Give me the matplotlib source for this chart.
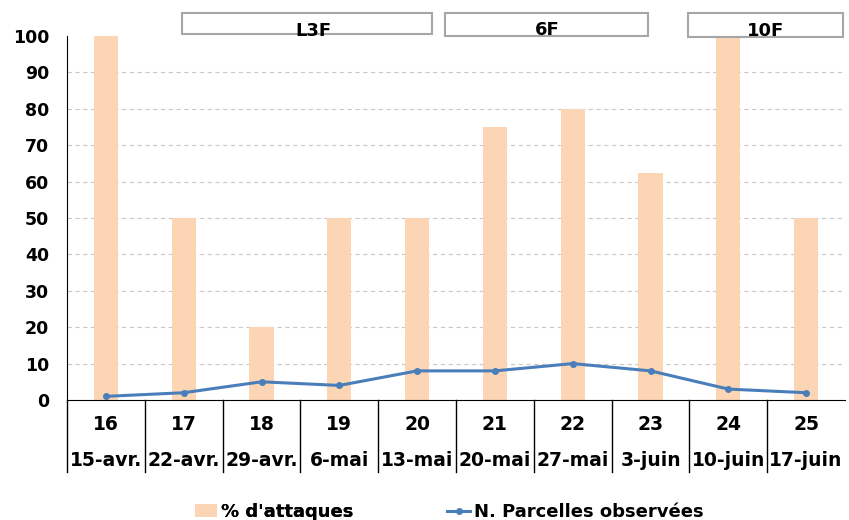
import matplotlib.pyplot as plt
from matplotlib.patches import Rectangle, Patch
from matplotlib.lines import Line2D

weeks = ['16', '17', '18', '19', '20', '21', '22', '23', '24', '25']
dates = ['15-avr.', '22-avr.', '29-avr.', '6-mai', '13-mai', '20-mai',
         '27-mai', '3-juin', '10-juin', '17-juin']
attaques = [100, 50, 20, 50, 50, 75, 80, 62.5, 100, 50]
parcelles = [1, 2, 5, 4, 8, 8, 10, 8, 3, 2]
stages = ['L3F', '6F', '10F']

bar_color = '#FCD5B4'
line_color = '#4A7EBB'

plt.rcParams['font.family'] = 'DejaVu Sans'
plt.rcParams['font.weight'] = 'bold'

fig = plt.figure(figsize=(8.49, 5.2), dpi=100)
ax = fig.add_axes([67 / 849, 1 - 400 / 520, 778 / 849, 364 / 520])

x = list(range(len(weeks)))
ax.bar(x, attaques, width=0.31, color=bar_color, zorder=2)
ax.plot(x, parcelles, color=line_color, lw=2.2, marker='o', ms=4, zorder=3)

ax.set_xlim(-0.5, len(weeks) - 0.5)
ax.set_ylim(0, 100)
ax.set_yticks(range(0, 101, 10))
ax.tick_params(axis='y', length=0, labelsize=12.5, pad=13)
for lab in ax.get_yticklabels():
    lab.set_fontweight('bold')
ax.set_xticks([])
for yv in range(10, 100, 10):
    ax.axhline(yv, color='#C8C8C8', lw=0.8, ls=(0, (4, 3)), zorder=1)

for s in ['top', 'right']:
    ax.spines[s].set_visible(False)
ax.spines['left'].set_color('black')
ax.spines['bottom'].set_color('black')

# category table under the axis
tr = ax.get_xaxis_transform()
for i in range(len(weeks)):
    ax.plot([i - 0.5, i - 0.5], [0, -72 / 364], color='black', lw=1,
            transform=tr, clip_on=False)
    ax.text(i, -24 / 364, weeks[i], transform=tr, ha='center', va='center',
            fontsize=13.5, fontweight='bold')
    ax.text(i, -60 / 364, dates[i], transform=tr, ha='center', va='center',
            fontsize=13.5, fontweight='bold')

# growth stage boxes at the top
boxes = [(182, 13, 250, 21), (445, 13, 203, 23), (688, 13, 155, 24)]
for (bx, by, bw, bh) in boxes:
    fig.patches.append(Rectangle((bx / 849, 1 - (by + bh) / 520), bw / 849, bh / 520,
                                 transform=fig.transFigure, fill=True,
                                 facecolor='white', edgecolor='#A6A6A6',
                                 lw=1.5, zorder=5))
for name, cx, cy in zip(stages, [313, 547, 766], [31, 30, 31]):
    fig.text(cx / 849, 1 - cy / 520, name, ha='center', va='center',
             fontsize=13, fontweight='bold', zorder=6)

leg1 = fig.legend([Patch(facecolor=bar_color, edgecolor='none')], ["% d'attaques"],
                  loc='center left', bbox_to_anchor=(195 / 849, 1 - 512 / 520),
                  frameon=False, borderpad=0, borderaxespad=0, handlelength=1.2,
                  handletextpad=0.25, prop={'weight': 'bold', 'size': 13})
fig.add_artist(leg1)
fig.legend([Line2D([0], [0], color=line_color, lw=2.2, marker='o', ms=4)],
           ['N. Parcelles observées'],
           loc='center left', bbox_to_anchor=(447 / 849, 1 - 512 / 520),
           frameon=False, borderpad=0, borderaxespad=0, handlelength=1.3,
           handletextpad=0.2, prop={'weight': 'bold', 'size': 13})

fig.savefig('out.png', dpi=100)
